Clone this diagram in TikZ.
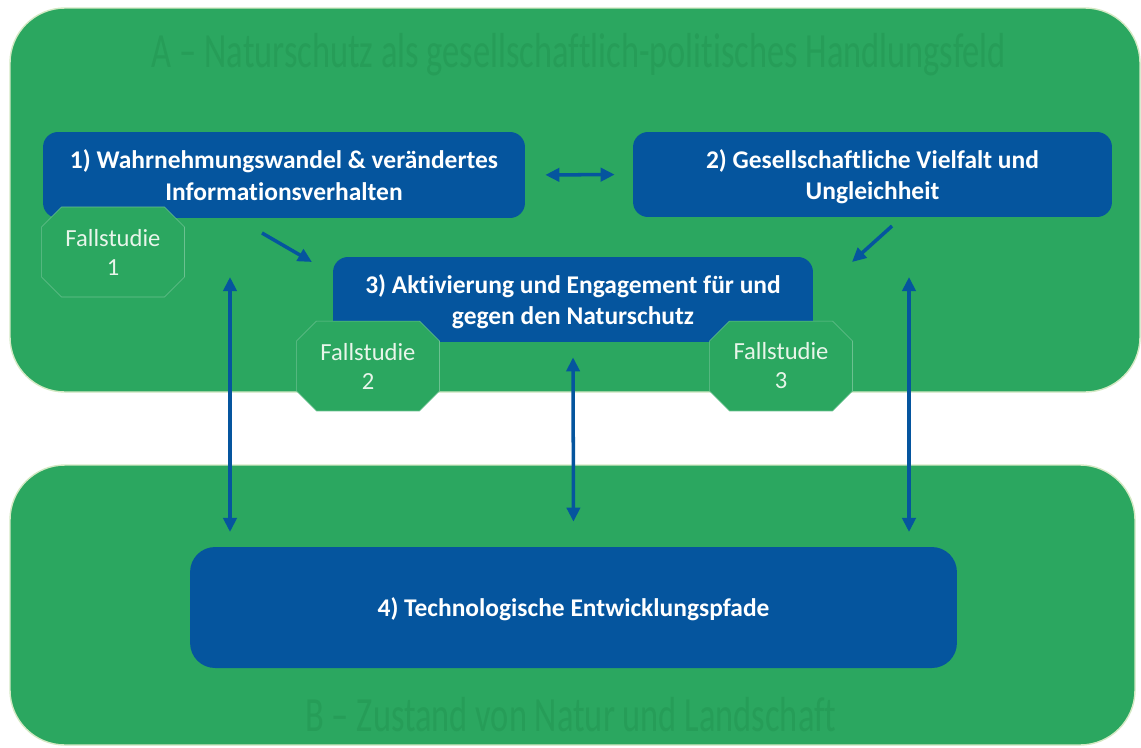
\documentclass[tikz,border=0pt]{standalone}
\usepackage{fontspec}
\setmainfont{Carlito}[Ligatures=CommonOff]
\usetikzlibrary{arrows.meta,shapes.misc}

\definecolor{panelgreen}{RGB}{43,167,96}
\definecolor{boxblue}{RGB}{5,85,158}
\definecolor{headgreen}{RGB}{38,157,88}
\definecolor{rimgreen}{RGB}{212,233,196}
\definecolor{studytext}{RGB}{232,245,234}

\begin{document}
\begin{tikzpicture}[x=0.02cm, y=-0.02cm,
    panel/.style={fill=panelgreen, draw=rimgreen, line width=0.8pt, rounded corners=1.1cm},
    head/.style={text=headgreen, font=\fontsize{28}{32}\selectfont, inner sep=0pt},
    topic/.style={fill=boxblue, rounded corners=0.3cm, text=white, align=center,
      font=\fontsize{14.5}{18}\selectfont\bfseries, inner sep=0pt, text depth=0pt},
    study/.style={chamfered rectangle, chamfered rectangle xsep=0.2cm, chamfered rectangle ysep=0.2cm,
      fill=panelgreen, draw=panelgreen!70!white, line width=0.3pt, text=studytext, align=center,
      font=\fontsize{14}{16.5}\selectfont, minimum width=2.86cm, minimum height=1.8cm, inner sep=0pt},
    link/.style={draw=boxblue, line width=2pt, -{Triangle[length=8pt,width=7.5pt]}},
    twolink/.style={link, {Triangle[length=8pt,width=7.5pt]}-{Triangle[length=8pt,width=7.5pt]}}]
  \useasboundingbox (0,0) rectangle (1141,747);

  % the two fields
  \draw[panel] (10,8) rectangle (1140,392);
  \draw[panel] (10,465) rectangle (1135,745);
  \node[head] (headA) at (579,55) {\scalebox{0.7}[1]{A -- Naturschutz als gesellschaftlich-politisches Handlungsfeld}};
  \node[head] (headB) at (571,715) {\scalebox{0.7}[1]{B -- Zustand von Natur und Landschaft}};

  % topics
  \node[topic, minimum width=9.64cm, minimum height=1.72cm] (box1) at (284,175)
    {1) Wahrnehmungswandel \& verändertes\\Informationsverhalten};
  \node[topic, minimum width=9.58cm, minimum height=1.7cm] (box2) at (872.5,174.5)
    {2) Gesellschaftliche Vielfalt und\\Ungleichheit};
  \node[topic, minimum width=9.6cm, minimum height=1.7cm] (box3) at (573,299.5)
    {3) Aktivierung und Engagement für und\\gegen den Naturschutz};
  \node[topic, rounded corners=0.5cm, minimum width=15.34cm, minimum height=2.42cm] (box4) at (573.5,607.5)
    {4) Technologische Entwicklungspfade};

  % case studies
  \node[study] (fs1) at (113,252) {Fallstudie\\1};
  \node[study] (fs2) at (368,366) {Fallstudie\\2};
  \node[study] (fs3) at (781,366) {Fallstudie\\3};

  % arrows
  \coordinate (a1) at (262,233);
  \coordinate (a3) at (312,262);
  \coordinate (b2) at (892,226);
  \coordinate (b3) at (852,262);
  \coordinate (l1) at (230,277);
  \coordinate (l4) at (230,532);
  \coordinate (r2) at (909,277);
  \coordinate (r4) at (909,532);
  \draw[twolink, shorten <=0.4cm, shorten >=0.36cm] (box1.east) -- (box2.west);
  \draw[link] (a1) -- (a3);
  \draw[link] (b2) -- (b3);
  \draw[twolink] (l1) -- (l4);
  \draw[twolink, shorten <=0.3cm, shorten >=0.5cm] (box3.south) -- (box4.north);
  \draw[twolink] (r2) -- (r4);
\end{tikzpicture}
\end{document}
